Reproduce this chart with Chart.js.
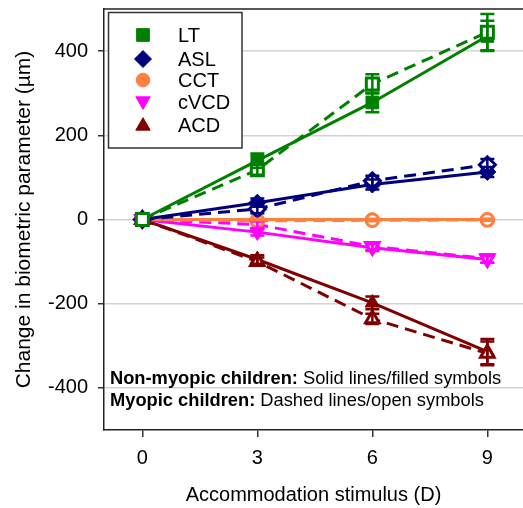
<!DOCTYPE html>
<html>
<head>
<meta charset="utf-8">
<script src="https://cdn.jsdelivr.net/npm/chart.js@4"></script>
<style>
  html, body { margin: 0; padding: 0; background: #fff; }
  #chart { display: block; }
</style>
</head>
<body>
<canvas id="chart" width="523" height="508"></canvas>
<script>
// accommodation stimulus (D)
var stimulus = [0, 3, 6, 9];
var seriesNames = ["LT", "ASL", "CCT", "cVCD", "ACD"];
var yTicks = [-400, -200, 0, 200, 400];

// non-myopic (solid, filled) and myopic (dashed, open) means, µm
var ltNonMyopic = [0, 140, 278, 436];
var ltMyopic = [0, 118, 322, 445];
var aslNonMyopic = [0, 40, 83, 113];
var aslMyopic = [0, 25, 92, 130];
var cctNonMyopic = [0, 0, 0, 0];
var cctMyopic = [0, -3, -2, -1];
var cvcdNonMyopic = [0, -30, -67, -95];
var cvcdMyopic = [0, -12, -64, -93];
var acdNonMyopic = [0, -95, -198, -314];
var acdMyopic = [0, -100, -236, -318];

// error bar half-lengths
var ltNonMyopicErr = [0, 17, 23, 36];
var ltMyopicErr = [0, 12, 23, 43];
var aslNonMyopicErr = [0, 10, 12, 12];
var aslMyopicErr = [0, 10, 12, 14];
var cctNonMyopicErr = [0, 2, 2, 2];
var cctMyopicErr = [0, 2, 2, 2];
var cvcdNonMyopicErr = [0, 8, 8, 8];
var cvcdMyopicErr = [0, 8, 8, 10];
var acdNonMyopicErr = [0, 10, 15, 30];
var acdMyopicErr = [0, 10, 12, 28];

var colors = ["#008000", "#00007f", "#ff7f3f", "#ff00ff", "#7f0000"];
var styles = ["rect", "rectRot", "circle", "triangle", "triangle"];
var radii = [9, 8.5, 6.8, 8.3, 8.3];
var rotations = [0, 0, 0, 180, 0];

var solidData = [ltNonMyopic, aslNonMyopic, cctNonMyopic, cvcdNonMyopic, acdNonMyopic];
var dashedData = [ltMyopic, aslMyopic, cctMyopic, cvcdMyopic, acdMyopic];
var solidErr = [ltNonMyopicErr, aslNonMyopicErr, cctNonMyopicErr, cvcdNonMyopicErr, acdNonMyopicErr];
var dashedErr = [ltMyopicErr, aslMyopicErr, cctMyopicErr, cvcdMyopicErr, acdMyopicErr];

function pts(arr) {
  return stimulus.map(function (x, i) { return { x: x, y: arr[i] }; });
}

var datasets = [];
for (var i = 0; i < seriesNames.length; i++) {
  datasets.push({
    label: seriesNames[i] + " myopic",
    data: pts(dashedData[i]),
    errors: dashedErr[i],
    borderColor: colors[i],
    backgroundColor: "#fff",
    borderWidth: 3,
    borderDash: [12, 7],
    pointStyle: styles[i],
    pointRadius: radii[i] - 0.5,
    pointRotation: rotations[i],
    pointBorderWidth: 3,
    pointBorderColor: colors[i],
    pointBackgroundColor: "#fff"
  });
}
for (var j = 0; j < seriesNames.length; j++) {
  datasets.push({
    label: seriesNames[j],
    data: pts(solidData[j]),
    errors: solidErr[j],
    borderColor: colors[j],
    backgroundColor: colors[j],
    borderWidth: 3,
    pointStyle: styles[j],
    pointRadius: radii[j],
    pointRotation: rotations[j],
    pointBorderWidth: 1,
    pointBorderColor: colors[j],
    pointBackgroundColor: colors[j]
  });
}

var FONT = "'Liberation Sans', Arial, sans-serif";

var errorBars = {
  id: "errorBars",
  afterDatasetsDraw: function (chart) {
    var ctx = chart.ctx;
    var ys = chart.scales.y;
    ctx.save();
    chart.data.datasets.forEach(function (ds, di) {
      var meta = chart.getDatasetMeta(di);
      ctx.strokeStyle = ds.borderColor;
      ctx.lineWidth = 2.5;
      ds.data.forEach(function (p, k) {
        var e = ds.errors[k];
        if (!e) return;
        var x = meta.data[k].x;
        var y1 = ys.getPixelForValue(p.y + e);
        var y2 = ys.getPixelForValue(p.y - e);
        ctx.beginPath();
        ctx.moveTo(x, y1); ctx.lineTo(x, y2);
        ctx.moveTo(x - 7, y1); ctx.lineTo(x + 7, y1);
        ctx.moveTo(x - 7, y2); ctx.lineTo(x + 7, y2);
        ctx.stroke();
      });
    });
    ctx.restore();
  }
};

var decorations = {
  id: "decorations",
  afterDraw: function (chart) {
    var ctx = chart.ctx;
    var a = chart.chartArea;
    ctx.save();
    // top frame line
    ctx.strokeStyle = "#222";
    ctx.lineWidth = 1.5;
    ctx.beginPath();
    ctx.moveTo(a.left - 0.75, a.top);
    ctx.lineTo(chart.width, a.top);
    ctx.stroke();

    // legend box
    ctx.fillStyle = "#fff";
    ctx.fillRect(108, 12, 134, 136);
    ctx.strokeStyle = "#333";
    ctx.lineWidth = 1.5;
    ctx.strokeRect(108.5, 12.5, 133.5, 135.5);
    var rows = [35, 59, 80, 102, 125];
    ctx.font = "20px " + FONT;
    ctx.textBaseline = "middle";
    for (var i = 0; i < seriesNames.length; i++) {
      ctx.fillStyle = colors[i];
      ctx.strokeStyle = colors[i];
      ctx.lineWidth = 1;
      Chart.helpers.drawPoint(ctx, {
        pointStyle: styles[i], radius: radii[i], rotation: rotations[i], borderWidth: 1
      }, 143, rows[i] + (styles[i] === "triangle" ? (rotations[i] ? -1 : 1) : 0));
      ctx.fillStyle = "#000";
      ctx.fillText(seriesNames[i], 178, rows[i] + 1);
    }

    // group note
    var notes = [
      ["Non-myopic children:", " Solid lines/filled symbols", 379],
      ["Myopic children:", " Dashed lines/open symbols", 401]
    ];
    ctx.textBaseline = "middle";
    notes.forEach(function (n) {
      ctx.font = "bold 18.3px " + FONT;
      ctx.fillStyle = "#000";
      ctx.fillText(n[0], 110, n[2]);
      var w = ctx.measureText(n[0]).width;
      ctx.font = "18.3px " + FONT;
      ctx.fillText(n[1], 110 + w, n[2]);
    });
    ctx.restore();
  }
};

function noPad(s) {
  s.paddingLeft = 0; s.paddingRight = 0; s.paddingTop = 0; s.paddingBottom = 0;
}

new Chart(document.getElementById("chart"), {
  type: "line",
  data: { datasets: datasets },
  options: {
    responsive: false,
    animation: false,
    devicePixelRatio: 1,
    layout: { autoPadding: false, padding: { top: 9, right: 0, left: 0, bottom: 0 } },
    plugins: {
      legend: { display: false },
      tooltip: { enabled: false }
    },
    scales: {
      x: {
        type: "linear",
        min: -1,
        max: 9.93,
        afterFit: function (s) { s.height = 78; noPad(s); },
        afterBuildTicks: function (s) { s.ticks = stimulus.map(function (v) { return { value: v }; }); },
        grid: { drawOnChartArea: false, tickLength: 7, tickColor: "#333", lineWidth: 1.5 },
        border: { display: true, color: "#222", width: 1.5 },
        ticks: { color: "#000", font: { family: FONT, size: 20 }, padding: 9, maxRotation: 0 },
        title: {
          display: true,
          text: "Accommodation stimulus (D)",
          color: "#000",
          font: { family: FONT, size: 20 },
          padding: { top: 0, bottom: 1 }
        }
      },
      y: {
        min: -500,
        max: 500,
        afterFit: function (s) { s.width = 104; noPad(s); },
        afterBuildTicks: function (s) { s.ticks = yTicks.map(function (v) { return { value: v }; }); },
        grid: { color: "#d3d3d3", lineWidth: 1.5, tickLength: 6, tickColor: "#333" },
        border: { display: true, color: "#222", width: 1.5 },
        ticks: { color: "#000", font: { family: FONT, size: 20 }, padding: 10 },
        title: {
          display: true,
          text: "Change in biometric parameter (µm)",
          color: "#000",
          font: { family: FONT, size: 21 },
          padding: { top: 12, bottom: 0 }
        }
      }
    }
  },
  plugins: [errorBars, decorations]
});
</script>
</body>
</html>
